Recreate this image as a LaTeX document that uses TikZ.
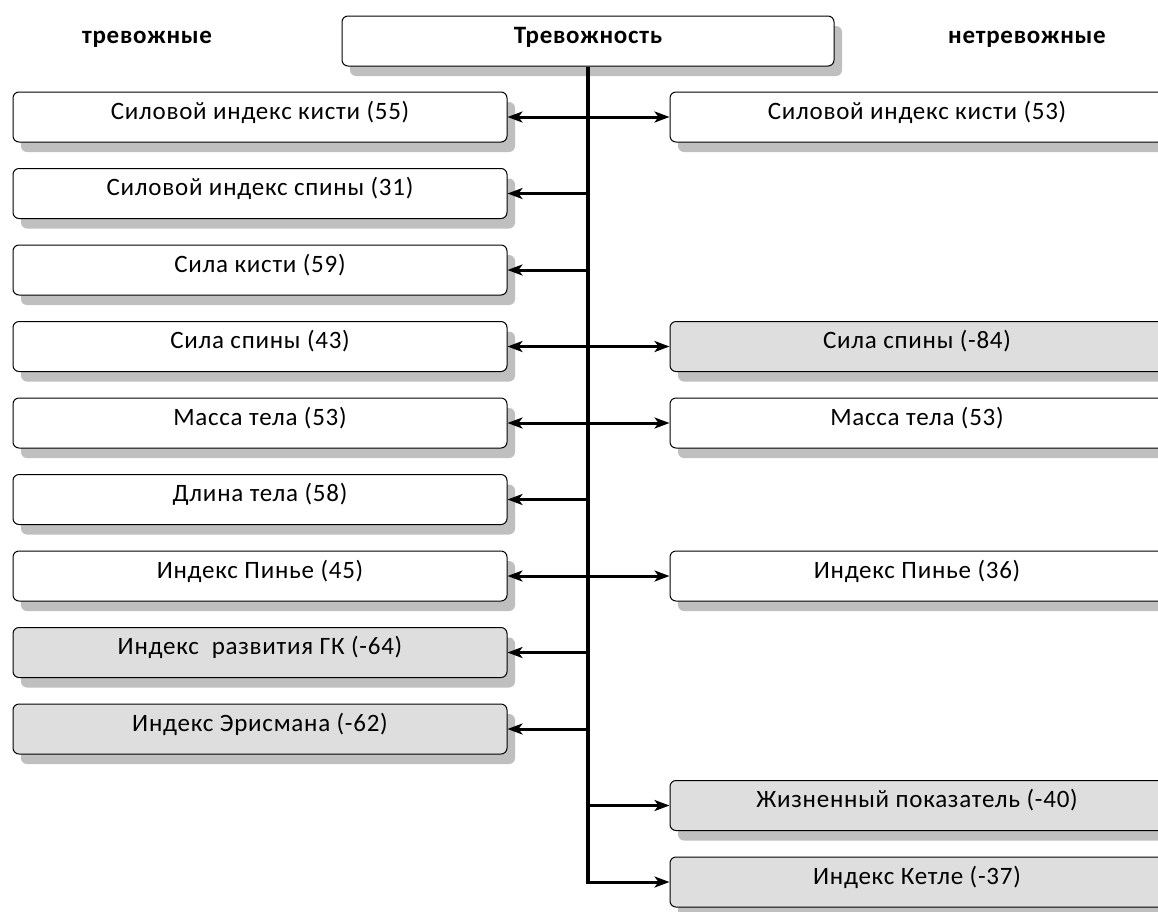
\documentclass[tikz,border=0pt]{standalone}
\usepackage{fontspec}
\setmainfont{Carlito}[LetterSpace=3]
\usetikzlibrary{shadows,arrows.meta}
\begin{document}
\begin{tikzpicture}[x=1pt,y=-1pt,
  box/.style={draw, line width=1pt, rounded corners=6pt, minimum width=494pt,
    minimum height=50pt, inner sep=0pt, text height=14pt, text depth=10pt,
    fill=white, font=\fontsize{25}{29}\selectfont,
    drop shadow={shadow xshift=8pt, shadow yshift=-10pt, fill=black!25, opacity=1}},
  gbox/.style={box, fill=black!13},
  hdr/.style={anchor=base, font=\fontsize{25}{29}\selectfont\bfseries},
  arr/.style={line width=3pt, -{Stealth[length=15pt,width=11pt,inset=4pt]}},
  darr/.style={line width=3pt, {Stealth[length=15pt,width=11pt,inset=4pt]}-{Stealth[length=15pt,width=11pt,inset=4pt]}},
  trunk/.style={line width=4pt}
]
\useasboundingbox (0,0) rectangle (1158,911);
\fill[white] (0,0) rectangle (1158,911);

\node[box, minimum width=492pt, font=\fontsize{25}{29}\selectfont\bfseries] (top) at (588,41) {Тревожность};
\node[hdr] (hl) at (147,43) {тревожные};
\node[hdr] (hr) at (1027,43) {нетревожные};

\node[box]  (l1) at (260,117)   {Силовой индекс кисти (55)};
\node[box]  (l2) at (260,193.5) {Силовой индекс спины (31)};
\node[box]  (l3) at (260,270)   {Сила кисти (59)};
\node[box]  (l4) at (260,346.5) {Сила спины (43)};
\node[box]  (l5) at (260,423)   {Масса тела (53)};
\node[box]  (l6) at (260,499.5) {Длина тела (58)};
\node[box]  (l7) at (260,576)   {Индекс Пинье (45)};
\node[gbox] (l8) at (260,652.5) {Индекс\ \ развития ГК (-64)};
\node[gbox] (l9) at (260,729)   {Индекс Эрисмана (-62)};

\node[box]  (r1)  at (917,117)   {Силовой индекс кисти (53)};
\node[gbox] (r4)  at (917,346.5) {Сила спины (-84)};
\node[box]  (r5)  at (917,423)   {Масса тела (53)};
\node[box]  (r7)  at (917,576)   {Индекс Пинье (36)};
\node[gbox] (r10) at (917,805.5) {Жизненный показатель (-40)};
\node[gbox] (r11) at (917,882)   {Индекс Кетле (-37)};

\coordinate (j2)  at (top.south |- l2.east);
\coordinate (j3)  at (top.south |- l3.east);
\coordinate (j6)  at (top.south |- l6.east);
\coordinate (j8)  at (top.south |- l8.east);
\coordinate (j9)  at (top.south |- l9.east);
\coordinate (j10) at (top.south |- r10.west);
\coordinate (j11) at (top.south |- r11.west);

\draw[trunk] (top.south) -- ([yshift=1.5pt]j11);
\draw[arr] ([xshift=-2pt]j11) -- (r11.west);
\draw[arr] (j10) -- (r10.west);
\draw[darr] (l1.east) -- (r1.west);
\draw[darr] (l4.east) -- (r4.west);
\draw[darr] (l5.east) -- (r5.west);
\draw[darr] (l7.east) -- (r7.west);
\draw[arr] (j2) -- (l2.east);
\draw[arr] (j3) -- (l3.east);
\draw[arr] (j6) -- (l6.east);
\draw[arr] (j8) -- (l8.east);
\draw[arr] (j9) -- (l9.east);
\end{tikzpicture}
\end{document}
